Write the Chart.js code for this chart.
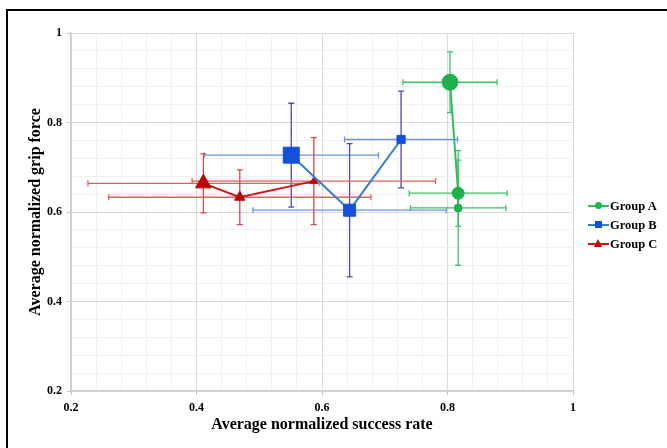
<!DOCTYPE html>
<html>
<head>
<meta charset="utf-8">
<script src="https://cdn.jsdelivr.net/npm/chart.js@4/dist/chart.umd.min.js"></script>
<style>
  html, body { margin: 0; padding: 0; background: #fff; }
  #wrap { position: relative; width: 667px; height: 448px; overflow: hidden; }
  #frame { position: absolute; left: 6px; top: 9px; width: 700px; height: 500px; border: 2px solid #000; box-sizing: border-box; pointer-events: none; }
  #legend { position: absolute; left: 588px; top: 198px; font: bold 12.5px "Liberation Serif", serif; color: #000; }
  #legend .row { position: relative; height: 19px; line-height: 16px; padding-left: 22px; }
  #legend .ln { position: absolute; left: 0; top: 7px; width: 21px; height: 2px; }
  #legend .mk { position: absolute; }
</style>
</head>
<body>
<div id="wrap">
  <canvas id="c" width="667" height="448"></canvas>
  <div id="frame"></div>
  <div id="legend"></div>
</div>
<script>
// Grip force vs. success rate, three groups, with x/y error bars

const groups = ["Group A", "Group B", "Group C"];

const groupA_x = [0.804, 0.817, 0.817];
const groupA_y = [0.890, 0.642, 0.609];
const groupA_xerr = [0.075, 0.078, 0.076];
const groupA_yerr = [0.068, 0.074, 0.128];

const groupB_x = [0.551, 0.644, 0.726];
const groupB_y = [0.727, 0.604, 0.762];
const groupB_xerr = [0.139, 0.154, 0.090];
const groupB_yerr = [0.116, 0.149, 0.108];

const groupC_x = [0.411, 0.469, 0.587];
const groupC_y = [0.664, 0.633, 0.669];
const groupC_xerr = [0.184, 0.209, 0.194];
const groupC_yerr = [0.066, 0.061, 0.097];

const axisTicks = [0.2, 0.4, 0.6, 0.8, 1];

const FONT = "'Liberation Serif', 'Times New Roman', serif";

function pts(xs, ys) { return xs.map((x, i) => ({ x, y: ys[i] })); }
function isMajor(v) { return axisTicks.some(t => Math.abs(t - v) < 1e-6); }

const styles = [
  { color: "#1fb24c", line: "#2dbf5c", xbar: "#3cc468", ybar: "#3cc468", shape: "circle", radius: [8, 6, 4] },
  { color: "#1550d8", line: "#2f7fd6", xbar: "#6c92e8", ybar: "#4a4ab8", shape: "rect", radius: [11.3, 8.5, 5.8] },
  { color: "#c00000", line: "#c81818", xbar: "#e06060", ybar: "#d84848", shape: "triangle", radius: [9, 6, 4.3] },
];

const errs = [
  [groupA_xerr, groupA_yerr],
  [groupB_xerr, groupB_yerr],
  [groupC_xerr, groupC_yerr],
];

const data = [pts(groupA_x, groupA_y), pts(groupB_x, groupB_y), pts(groupC_x, groupC_y)];

const errorBars = {
  id: "errorBars",
  beforeDatasetsDraw(chart) {
    const { ctx, scales: { x, y } } = chart;
    const cap = 3;
    ctx.save();
    ctx.lineWidth = 1.3;
    data.forEach((set, g) => {
      const [xe, ye] = errs[g];
      set.forEach((p, i) => {
        const px = x.getPixelForValue(p.x), py = y.getPixelForValue(p.y);
        const x0 = x.getPixelForValue(p.x - xe[i]), x1 = x.getPixelForValue(p.x + xe[i]);
        const y0 = y.getPixelForValue(p.y + ye[i]), y1 = y.getPixelForValue(p.y - ye[i]);
        ctx.strokeStyle = styles[g].xbar;
        ctx.beginPath();
        ctx.moveTo(x0, py); ctx.lineTo(x1, py);
        ctx.moveTo(x0, py - cap); ctx.lineTo(x0, py + cap);
        ctx.moveTo(x1, py - cap); ctx.lineTo(x1, py + cap);
        ctx.stroke();
        ctx.strokeStyle = styles[g].ybar;
        ctx.beginPath();
        ctx.moveTo(px, y0); ctx.lineTo(px, y1);
        ctx.moveTo(px - cap, y0); ctx.lineTo(px + cap, y0);
        ctx.moveTo(px - cap, y1); ctx.lineTo(px + cap, y1);
        ctx.stroke();
      });
    });
    ctx.restore();
  }
};

const gridColor = c => isMajor(c.tick.value) ? "#dadada" : "#f0f0f0";

new Chart(document.getElementById("c"), {
  type: "scatter",
  data: {
    datasets: groups.map((name, g) => ({
      label: name,
      data: data[g],
      showLine: true,
      borderColor: styles[g].line,
      borderWidth: 2,
      pointStyle: styles[g].shape,
      pointRadius: styles[g].radius,
      pointBackgroundColor: styles[g].color,
      pointBorderColor: styles[g].color,
      pointBorderWidth: 1,
    })),
  },
  options: {
    responsive: false,
    animation: false,
    layout: { padding: { top: 33, right: 94, left: 0, bottom: 0 } },
    plugins: { legend: { display: false }, tooltip: { enabled: false } },
    scales: {
      x: {
        type: "linear", min: 0.2, max: 1,
        afterFit: s => { s.height = 57; },
        ticks: {
          stepSize: 0.04, autoSkip: false, padding: 6,
          color: "#000", font: { family: FONT, size: 12, weight: "bold" },
          callback: v => isMajor(v) ? String(+v.toFixed(1)) : "",
        },
        grid: { color: gridColor, tickColor: c => isMajor(c.tick.value) ? "#c4c4c4" : "rgba(0,0,0,0)", tickLength: 4 },
        border: { color: "#cccccc", width: 1.5 },
        title: { display: true, text: "Average normalized success rate", color: "#000",
                 font: { family: FONT, size: 16, weight: "bold" }, padding: { top: 0, bottom: 14 } },
      },
      y: {
        type: "linear", min: 0.2, max: 1,
        afterFit: s => { s.width = 71; },
        ticks: {
          stepSize: 0.04, autoSkip: false, padding: 5,
          color: "#000", font: { family: FONT, size: 12, weight: "bold" },
          callback: v => isMajor(v) ? String(+v.toFixed(1)) : "",
        },
        grid: { color: gridColor, tickColor: c => isMajor(c.tick.value) ? "#c4c4c4" : "rgba(0,0,0,0)", tickLength: 4 },
        border: { color: "#cccccc", width: 1.5 },
        title: { display: true, text: "Average normalized grip force", color: "#000",
                 font: { family: FONT, size: 16, weight: "bold" }, padding: { top: 26, bottom: 0 } },
      },
    },
  },
  plugins: [errorBars],
});

// legend: line + marker, built from the same styles
const leg = document.getElementById("legend");
groups.forEach((name, g) => {
  const s = styles[g];
  const row = document.createElement("div");
  row.className = "row";
  const ln = document.createElement("span");
  ln.className = "ln"; ln.style.background = s.line;
  const mk = document.createElement("span");
  mk.className = "mk";
  if (s.shape === "circle") {
    Object.assign(mk.style, { left: "7px", top: "4px", width: "7px", height: "7px", borderRadius: "50%", background: s.color });
  } else if (s.shape === "rect") {
    Object.assign(mk.style, { left: "7px", top: "4px", width: "7px", height: "7px", background: s.color });
  } else {
    Object.assign(mk.style, { left: "6px", top: "3px", width: "0", height: "0",
      borderLeft: "4.5px solid transparent", borderRight: "4.5px solid transparent", borderBottom: "8px solid " + s.color });
  }
  row.appendChild(ln); row.appendChild(mk);
  row.appendChild(document.createTextNode(name));
  leg.appendChild(row);
});
</script>
</body>
</html>
